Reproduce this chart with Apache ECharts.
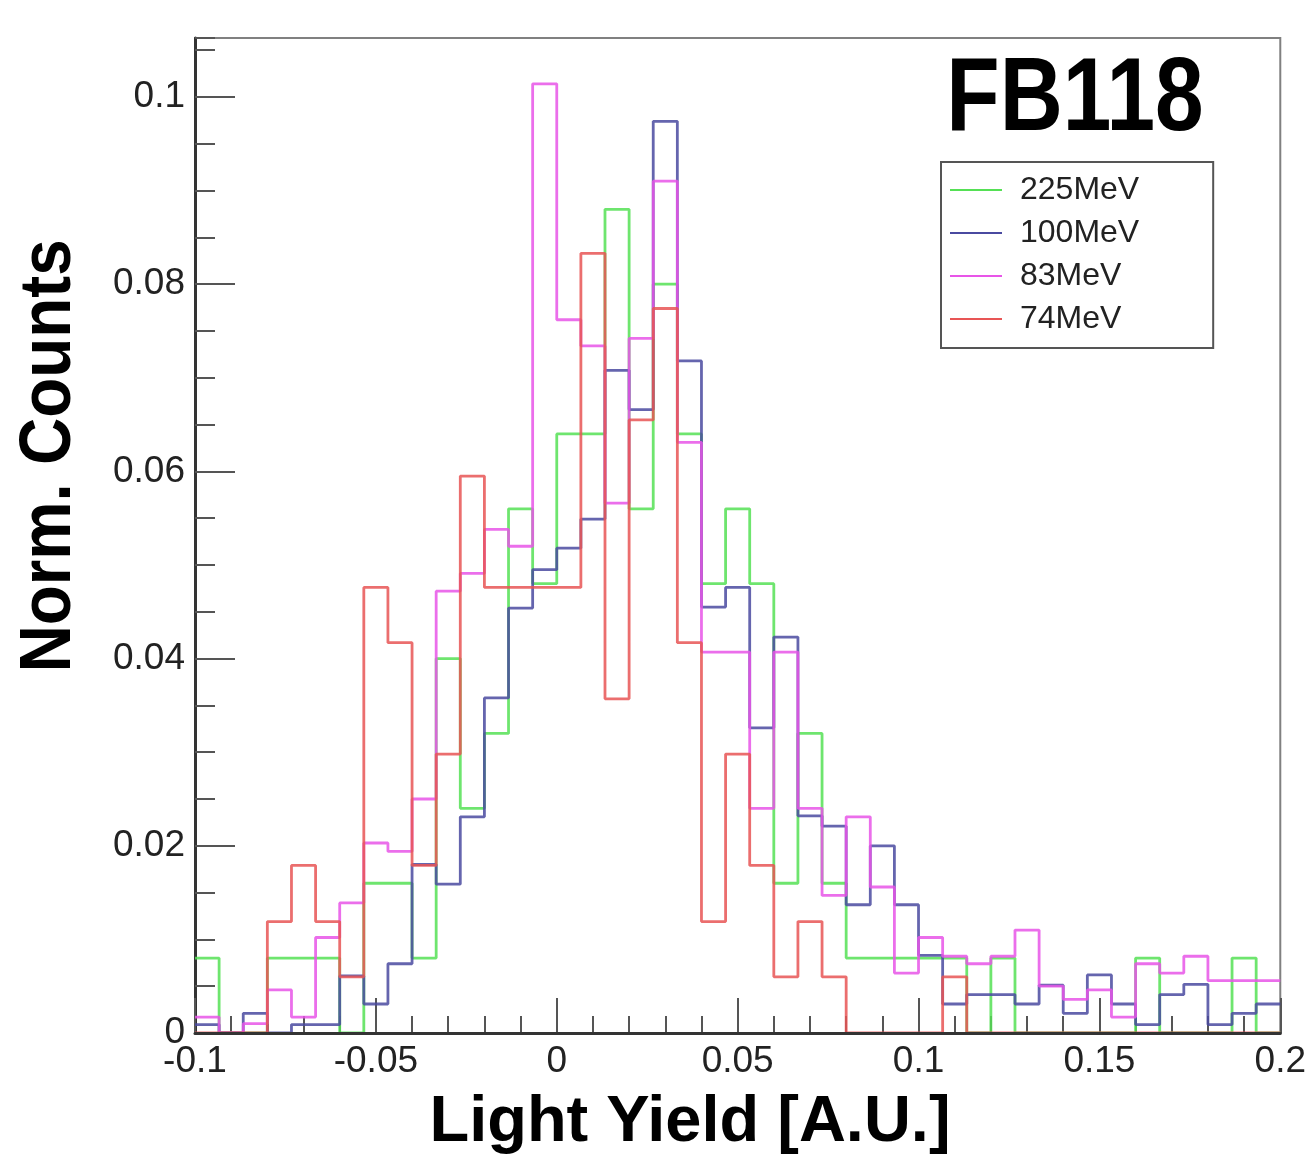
<!DOCTYPE html>
<html>
<head>
<meta charset="utf-8">
<script src="https://cdn.jsdelivr.net/npm/echarts@6/dist/echarts.min.js"></script>
<style>
  html, body { margin: 0; padding: 0; background: #fff; }
  #chart { width: 1309px; height: 1162px; }
</style>
</head>
<body>
<div id="chart"></div>
<script>
// Histogram binning: 45 bins from -0.1 to 0.2
const binLow = -0.1;
const binHigh = 0.2;
const nBins = 45;

const seriesNames = ['225MeV', '100MeV', '83MeV', '74MeV'];
const seriesColors = ['#55e055', '#4a4aa0', '#e855e8', '#e85555'];

// Normalised counts per bin, lowest bin first
const counts225 = [0.008, 0, 0, 0.008, 0.008, 0.008, 0, 0.016, 0.016, 0.008,
  0.040, 0.024, 0.032, 0.056, 0.048, 0.064, 0.064, 0.088, 0.056, 0.080,
  0.064, 0.048, 0.056, 0.048, 0.016, 0.032, 0.016, 0.008, 0.008, 0.008,
  0.008, 0.008, 0, 0.008, 0, 0, 0, 0, 0, 0.008,
  0, 0, 0, 0.008, 0];
const counts100 = [0.0009, 0, 0.0021, 0, 0.0009, 0.0009, 0.0061, 0.0031, 0.0074, 0.0180,
  0.0159, 0.0231, 0.0358, 0.0454, 0.0495, 0.0518, 0.0549, 0.0708, 0.0666, 0.0974,
  0.0718, 0.0455, 0.0476, 0.0326, 0.0423, 0.0232, 0.0221, 0.0137, 0.0200, 0.0137,
  0.0083, 0.0031, 0.0041, 0.0041, 0.0031, 0.0051, 0.0021, 0.0062, 0.0031, 0.0009,
  0.0041, 0.0052, 0.0009, 0.0021, 0.0031];
const counts83 = [0.0017, 0, 0.0010, 0.0046, 0.0017, 0.0102, 0.0139, 0.0203, 0.0194, 0.0250,
  0.0472, 0.0491, 0.0538, 0.0520, 0.1014, 0.0762, 0.0734, 0.0566, 0.0742, 0.0910,
  0.0631, 0.0407, 0.0407, 0.0240, 0.0407, 0.0240, 0.0147, 0.0231, 0.0156, 0.0064,
  0.0102, 0.0082, 0.0074, 0.0082, 0.0110, 0.0050, 0.0036, 0.0046, 0.0017, 0.0074,
  0.0064, 0.0082, 0.0056, 0.0056, 0.0056];
const counts74 = [0, 0, 0, 0.0119, 0.0179, 0.0119, 0.0060, 0.0476, 0.0417, 0.0179,
  0.0298, 0.0595, 0.0476, 0.0476, 0.0476, 0.0476, 0.0833, 0.0357, 0.0655, 0.0774,
  0.0417, 0.0119, 0.0298, 0.0179, 0.0060, 0.0119, 0.0060, 0, 0, 0,
  0, 0.0060, 0, 0, 0, 0, 0, 0, 0, 0,
  0, 0, 0, 0, 0];

// Axis tick labels
const xTickValues = [-0.1, -0.05, 0, 0.05, 0.1, 0.15, 0.2];
const yTickValues = [0, 0.02, 0.04, 0.06, 0.08, 0.1];
const yMax = 0.1063;

const allCounts = [counts225, counts100, counts83, counts74];
const binWidth = (binHigh - binLow) / nBins;

// Outline points: each bin's lower edge, plus the upper edge of the last bin
function outline(values) {
  const pts = values.map((v, i) => [binLow + i * binWidth, v]);
  pts.push([binHigh, values[values.length - 1]]);
  return pts;
}

const baseFont = '"Liberation Sans", Arial, Helvetica, sans-serif';

const chart = echarts.init(document.getElementById('chart'), null, { renderer: 'canvas' });

chart.setOption({
  animation: false,
  backgroundColor: '#fff',
  grid: {
    left: 195, right: 28, top: 38, bottom: 129,
    show: true, borderColor: '#808080', borderWidth: 2, backgroundColor: 'transparent'
  },
  legend: {
    orient: 'vertical',
    left: 941, top: 162,
    padding: [12, 74, 13, 9],
    itemWidth: 52, itemHeight: 2, itemGap: 11,
    icon: 'rect',
    backgroundColor: '#fff', borderColor: '#555', borderWidth: 2,
    textStyle: { fontFamily: baseFont, fontSize: 32, color: '#222', padding: [0, 0, 0, 13], lineHeight: 32 },
    data: seriesNames
  },
  xAxis: [
    {
      type: 'value', min: binLow, max: binHigh, interval: 0.05,
      position: 'bottom',
      axisLine: { show: false, onZero: false },
      axisTick: { show: true, inside: true, length: 35, lineStyle: { color: '#555', width: 2 } },
      minorTick: { show: true, splitNumber: 5, length: 17, lineStyle: { color: '#555', width: 2 } },
      axisLabel: {
        customValues: xTickValues,
        fontFamily: baseFont, fontSize: 37, color: '#222', margin: 10
      },
      splitLine: { show: false }
    },
    {
      type: 'value', min: binLow, max: binHigh, interval: 0.05,
      position: 'bottom', z: 5,
      axisLine: { show: true, onZero: false, lineStyle: { color: '#333', width: 3 } },
      axisTick: { show: false }, axisLabel: { show: false }, splitLine: { show: false }
    }
  ],
  yAxis: [
    {
      type: 'value', min: 0, max: yMax, interval: 0.02,
      position: 'left',
      axisLine: { show: true, onZero: false, lineStyle: { color: '#333', width: 3 } },
      axisTick: { show: true, inside: true, length: 40, customValues: yTickValues, lineStyle: { color: '#555', width: 2 } },
      axisLabel: {
        customValues: yTickValues,
        fontFamily: baseFont, fontSize: 37, color: '#222', margin: 10
      },
      splitLine: { show: false }
    },
    {
      type: 'value', min: 0, max: yMax, interval: 0.005,
      position: 'left',
      axisLine: { show: false, onZero: false },
      axisTick: { show: true, inside: true, length: 20, lineStyle: { color: '#555', width: 2 } },
      axisLabel: { show: false }, splitLine: { show: false }
    }
  ],
  series: seriesNames.map((name, k) => ({
    type: 'line',
    name: name,
    xAxisIndex: 0, yAxisIndex: 0,
    step: 'end',
    symbol: 'none', showSymbol: false,
    color: seriesColors[k],
    lineStyle: { color: seriesColors[k], width: 2.8, opacity: 0.85 },
    itemStyle: { color: seriesColors[k] },
    emphasis: { disabled: true },
    data: outline(allCounts[k])
  })),
  graphic: [
    {
      type: 'text', x: 1075, y: 101, scaleX: 0.84,
      style: { text: 'FB118', font: 'bold 104px ' + baseFont, fill: '#000',
        align: 'center', verticalAlign: 'middle', textAlign: 'center', textVerticalAlign: 'middle' }
    },
    {
      type: 'text', x: 50, y: 456, rotation: Math.PI / 2, scaleX: 0.91,
      style: { text: 'Norm. Counts', font: 'bold 72px ' + baseFont, fill: '#000',
        align: 'center', verticalAlign: 'middle', textAlign: 'center', textVerticalAlign: 'middle' }
    },
    {
      type: 'text', x: 690, y: 1123,
      style: { text: 'Light Yield [A.U.]', font: 'bold 65px ' + baseFont, fill: '#000',
        align: 'center', verticalAlign: 'middle', textAlign: 'center', textVerticalAlign: 'middle' }
    }
  ]
});
</script>
</body>
</html>
